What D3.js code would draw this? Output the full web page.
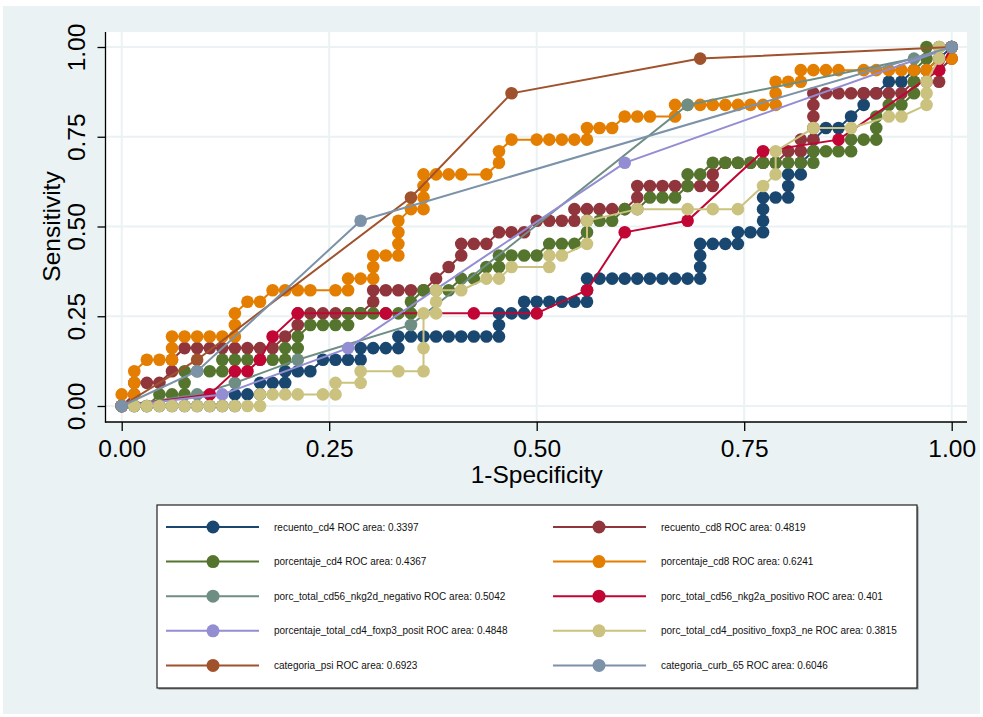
<!DOCTYPE html>
<html>
<head>
<meta charset="utf-8">
<title>ROC comparison</title>
<script src="https://cdn.jsdelivr.net/npm/d3@7"></script>
<style>
  body { margin: 0; background: #fff; }
  svg { display: block; font-family: 'Liberation Sans', Helvetica, Arial, sans-serif; }
</style>
</head>
<body>
<div id="chart"></div>
<script>
// counts of false positives (out of 66 negatives) and true positives (out of 31 positives)
const nNeg = 66, nPos = 31

const recuentoCd4 = [[0,0],[1,0],[2,0],[3,0],[4,0],[5,0],[6,0],[7,0],[8,0],[9,0],[9,1],[10,1],[11,1],[11,2],[12,2],[13,2],[13,3],[14,3],[15,3],[16,4],[17,4],[18,4],[19,4],[19,5],[20,5],[21,5],[22,5],[22,6],[23,6],[24,6],[25,6],[26,6],[27,6],[28,6],[29,6],[30,6],[30,7],[30,8],[31,8],[32,8],[32,9],[33,9],[34,9],[35,9],[36,9],[37,9],[37,10],[37,11],[38,11],[39,11],[40,11],[41,11],[42,11],[43,11],[44,11],[45,11],[46,11],[46,12],[46,13],[46,14],[47,14],[48,14],[49,14],[49,15],[50,15],[51,15],[51,16],[51,17],[51,18],[52,18],[53,18],[53,19],[53,20],[54,20],[54,21],[55,22],[55,23],[56,24],[57,24],[58,25],[59,26],[59,27],[60,27],[61,28],[62,28],[63,29],[64,29],[65,30],[66,31]]
const recuentoCd8 = [[0,0],[1,1],[1,2],[2,2],[3,2],[4,3],[4,4],[5,5],[6,5],[7,5],[8,5],[9,5],[10,5],[11,5],[12,5],[13,6],[14,7],[14,8],[15,8],[16,8],[17,8],[18,8],[19,8],[20,9],[20,10],[21,10],[22,10],[23,10],[24,10],[25,11],[26,12],[27,13],[27,14],[28,14],[29,14],[30,15],[31,15],[32,15],[33,16],[34,16],[35,16],[36,16],[36,17],[37,17],[38,17],[39,17],[40,17],[41,18],[41,19],[42,19],[43,19],[44,19],[45,19],[46,19],[47,19],[47,20],[48,21],[49,21],[50,21],[51,21],[52,21],[53,22],[54,22],[54,23],[55,23],[55,24],[55,25],[55,26],[55,27],[56,27],[57,27],[58,27],[59,27],[60,27],[61,27],[62,27],[63,28],[64,28],[65,28],[65,29],[66,30],[66,31]]
const porcentajeCd4 = [[0,0],[1,0],[2,0],[3,1],[4,1],[5,1],[5,2],[5,3],[6,3],[7,3],[8,3],[8,4],[9,4],[10,4],[11,4],[12,4],[13,4],[13,5],[14,5],[14,6],[15,7],[16,7],[17,7],[18,7],[18,8],[19,8],[20,8],[21,8],[22,8],[23,8],[23,9],[24,10],[25,10],[26,10],[27,11],[28,11],[29,12],[30,12],[30,13],[31,13],[32,13],[33,13],[34,14],[35,14],[36,14],[37,15],[37,16],[38,16],[39,16],[40,17],[41,17],[42,18],[43,18],[44,18],[45,19],[45,20],[46,20],[47,21],[48,21],[49,21],[50,21],[51,21],[52,21],[53,21],[54,21],[55,21],[55,22],[56,22],[57,22],[58,22],[58,23],[59,23],[60,23],[60,24],[60,25],[61,26],[62,26],[63,27],[63,28],[63,29],[64,30],[64,31],[65,31],[66,31]]
const porcentajeCd8 = [[0,0],[0,1],[1,1],[1,2],[1,3],[2,4],[3,4],[4,4],[4,5],[4,6],[5,6],[6,6],[7,6],[8,6],[9,6],[9,7],[9,8],[10,9],[11,9],[12,10],[13,10],[14,10],[15,10],[17,10],[18,10],[18,11],[19,11],[20,11],[20,12],[20,13],[21,13],[22,13],[22,14],[22,15],[22,16],[23,17],[24,17],[24,18],[24,19],[24,20],[25,20],[26,20],[27,20],[29,20],[30,21],[30,22],[31,23],[33,23],[34,23],[35,23],[36,23],[37,23],[37,24],[38,24],[39,24],[40,25],[41,25],[42,25],[44,25],[44,26],[45,26],[46,26],[47,26],[48,26],[49,26],[50,26],[51,26],[52,26],[52,27],[52,28],[53,28],[54,28],[54,29],[55,29],[56,29],[57,29],[59,29],[60,29],[61,29],[62,29],[63,29],[64,29],[65,30],[66,30],[66,31]]
const nkg2dNegativo = [[0,0],[6,1],[9,2],[14,4],[23,7],[45,26],[63,30],[66,31]]
const nkg2aPositivo = [[0,0],[7,1],[9,3],[10,3],[11,4],[12,6],[14,8],[21,8],[28,8],[33,8],[37,10],[40,15],[45,16],[51,22],[57,23],[65,29],[66,31]]
const cd4Foxp3Posit = [[0,0],[8,1],[18,5],[40,21],[66,31]]
const cd4PositivoFoxp3Ne = [[0,0],[1,0],[2,0],[3,0],[4,0],[5,0],[6,0],[7,0],[8,0],[9,0],[10,0],[11,0],[11,1],[12,1],[13,1],[14,1],[16,1],[17,1],[17,2],[19,2],[19,3],[22,3],[24,3],[24,5],[24,8],[25,8],[25,9],[25,10],[27,10],[29,11],[30,11],[31,12],[34,12],[34,13],[35,13],[37,14],[37,16],[41,17],[45,17],[47,17],[49,17],[51,19],[52,20],[52,22],[55,24],[58,24],[61,25],[62,25],[64,26],[64,27],[64,28],[65,30],[65,31],[66,31]]
const categoriaPsi = [[0,0],[6,4],[23,18],[31,27],[46,30],[66,31]]
const categoriaCurb65 = [[0,0],[6,3],[19,16],[66,31]]

const seriesNames = ['recuento_cd4', 'recuento_cd8', 'porcentaje_cd4', 'porcentaje_cd8',
  'porc_total_cd56_nkg2d_negativo', 'porc_total_cd56_nkg2a_positivo',
  'porcentaje_total_cd4_foxp3_posit', 'porc_total_cd4_positivo_foxp3_ne',
  'categoria_psi', 'categoria_curb_65']
const rocAreas = ['0.3397', '0.4819', '0.4367', '0.6241', '0.5042', '0.401', '0.4848', '0.3815', '0.6923', '0.6046']
const seriesData = [recuentoCd4, recuentoCd8, porcentajeCd4, porcentajeCd8, nkg2dNegativo,
  nkg2aPositivo, cd4Foxp3Posit, cd4PositivoFoxp3Ne, categoriaPsi, categoriaCurb65]
const colors = ['#1a476f', '#90353b', '#55752f', '#e37e00', '#6e8e84',
  '#c10534', '#938dd2', '#cac27e', '#a0522d', '#7b92a8']
const ticks = [0, 0.25, 0.5, 0.75, 1]

const W = 983, H = 717
const frame = { left: 105.5, right: 967, top: 32, bottom: 422 }
const font = "'Liberation Sans', Helvetica, Arial, sans-serif"

const svg = d3.select('#chart').append('svg')
  .attr('width', W).attr('height', H)

svg.append('rect').attr('x', 3).attr('y', 6).attr('width', 977).attr('height', 708)
  .attr('fill', '#eaf2f3')

svg.append('rect')
  .attr('x', frame.left).attr('y', frame.top)
  .attr('width', frame.right - frame.left).attr('height', frame.bottom - frame.top)
  .attr('fill', '#fff')

const x = d3.scaleLinear().domain([0, 1]).range([121.7, 951.7])
const y = d3.scaleLinear().domain([0, 1]).range([406, 47])

// grid
const grid = svg.append('g').attr('stroke', '#eaf2f3').attr('stroke-width', 2)
grid.selectAll('.gx').data(ticks).enter().append('line')
  .attr('x1', d => x(d)).attr('x2', d => x(d))
  .attr('y1', frame.top).attr('y2', frame.bottom)
grid.selectAll('.gy').data(ticks).enter().append('line')
  .attr('y1', d => y(d)).attr('y2', d => y(d))
  .attr('x1', frame.left).attr('x2', frame.right)

// series, drawn in legend order (later ones on top)
const line = d3.line().x(d => x(d[0] / nNeg)).y(d => y(d[1] / nPos))
seriesData.forEach((data, i) => {
  const g = svg.append('g')
  g.append('path').datum(data)
    .attr('d', line)
    .attr('fill', 'none')
    .attr('stroke', colors[i])
    .attr('stroke-width', 2)
  g.selectAll('circle').data(data).enter().append('circle')
    .attr('cx', d => x(d[0] / nNeg))
    .attr('cy', d => y(d[1] / nPos))
    .attr('r', 6.3)
    .attr('fill', colors[i])
})

// axes
const fmt = d3.format('.2f')
const yAxis = svg.append('g')
  .attr('transform', `translate(${frame.left},0)`)
  .call(d3.axisLeft(y).tickValues(ticks).tickFormat(fmt).tickSize(8))
yAxis.select('.domain').remove()
yAxis.selectAll('.tick line').attr('stroke', '#000').attr('stroke-width', 1.3)
yAxis.selectAll('.tick text')
  .attr('transform', 'rotate(-90)')
  .attr('x', 0).attr('y', -20.5).attr('dy', 0)
  .attr('text-anchor', 'middle')
  .style('font-family', font).style('font-size', '24.5px').attr('fill', '#000')

const xAxis = svg.append('g')
  .attr('transform', `translate(0,${frame.bottom})`)
  .call(d3.axisBottom(x).tickValues(ticks).tickFormat(fmt).tickSize(9))
xAxis.select('.domain').remove()
xAxis.selectAll('.tick line').attr('stroke', '#000').attr('stroke-width', 1.3)
xAxis.selectAll('.tick text')
  .attr('y', 35).attr('dy', 0)
  .style('font-family', font).style('font-size', '24.5px').attr('fill', '#000')

svg.append('line').attr('x1', frame.left).attr('x2', frame.left)
  .attr('y1', frame.top).attr('y2', frame.bottom + 0.6)
  .attr('stroke', '#000').attr('stroke-width', 1.3)
svg.append('line').attr('x1', frame.left - 0.6).attr('x2', frame.right)
  .attr('y1', frame.bottom).attr('y2', frame.bottom)
  .attr('stroke', '#000').attr('stroke-width', 1.3)

svg.append('text')
  .attr('x', (x(0) + x(1)) / 2).attr('y', 483)
  .attr('text-anchor', 'middle')
  .style('font-family', font).style('font-size', '24.5px')
  .text('1-Specificity')
svg.append('text')
  .attr('transform', `translate(60,${(y(0) + y(1)) / 2}) rotate(-90)`)
  .attr('text-anchor', 'middle')
  .style('font-family', font).style('font-size', '24.5px')
  .text('Sensitivity')

// legend
const legend = svg.append('g')
svg.append('rect').attr('x', 158.5).attr('y', 506.5).attr('width', 760).attr('height', 183)
  .attr('fill', '#888')
legend.append('rect').attr('x', 157).attr('y', 505).attr('width', 760).attr('height', 183)
  .attr('fill', '#fff').attr('stroke', '#222').attr('stroke-width', 1.2)
legend.raise()

const colX = [{ l0: 166, l1: 259, m: 213, t: 274 }, { l0: 553, l1: 646, m: 599, t: 661 }]
seriesNames.forEach((name, i) => {
  const c = colX[i % 2]
  const ry = 527 + Math.floor(i / 2) * 34.6
  legend.append('line').attr('x1', c.l0).attr('x2', c.l1).attr('y1', ry).attr('y2', ry)
    .attr('stroke', colors[i]).attr('stroke-width', 2)
  legend.append('circle').attr('cx', c.m).attr('cy', ry).attr('r', 6.5).attr('fill', colors[i])
  legend.append('text').attr('x', c.t).attr('y', ry + 3.5)
    .style('font-family', font).style('font-size', '10px').attr('fill', '#111')
    .text(`${name} ROC area: ${rocAreas[i]}`)
})
</script>
</body>
</html>
